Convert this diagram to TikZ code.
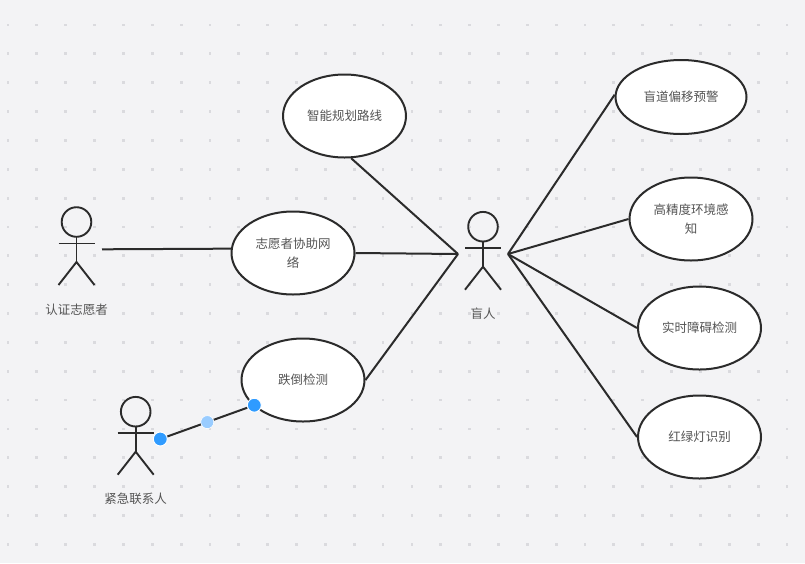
\documentclass[tikz,border=0pt]{standalone}
\usepackage{fontspec}
\setmainfont{Noto Sans CJK SC}
\usetikzlibrary{shapes.geometric,calc}
\definecolor{bgc}{HTML}{F3F3F5}
\definecolor{dotc}{HTML}{DADADE}
\definecolor{inkc}{HTML}{2B2B2B}
\definecolor{txtc}{HTML}{555555}
\definecolor{handlec}{HTML}{2F9BFF}
\definecolor{midc}{HTML}{99CCFF}
\tikzset{
  usecase/.style={ellipse,draw=inkc,fill=white,line width=2pt,inner sep=0pt,minimum width=123pt,minimum height=83pt,text=txtc,font=\fontsize{12.5}{19}\selectfont,align=center},
  link/.style={draw=inkc,line width=2pt},
  limb/.style={draw=inkc,line width=1.9pt},
  actorlabel/.style={text=txtc,font=\fontsize{12.5}{15}\selectfont,inner sep=0pt},
  handle/.style={circle,fill=handlec,draw=white,line width=1pt,minimum size=14pt,inner sep=0pt},
  midhandle/.style={circle,fill=midc,draw=white,line width=0.6pt,minimum size=13pt,inner sep=0pt},
}
\newcommand{\stickman}[2]{%
  \draw[limb] (#1,#2) circle (14.8pt);
  \draw[limb] (#1,#2+14.8) -- (#1,#2+40);
  \draw[limb] (#1-18,#2+21.5) -- (#1+18,#2+21.5);
  \draw[limb] (#1-18,#2+63) -- (#1,#2+40) -- (#1+18,#2+63);
}
\begin{document}
\begin{tikzpicture}[x=1pt,y=-1pt]
\useasboundingbox (0,0) rectangle (805,563);
\fill[bgc] (0,0) rectangle (805,563);
\foreach \i in {0,...,27}{\foreach \j in {0,...,18}{
  \fill[dotc] ({8+28.85*\i-1.4},{25+28.85*\j-1.4}) rectangle +(2.8,2.8);
}}
% use cases
\node[usecase] (route) at (344.5,116) {智能规划路线};
\node[usecase] (volunteer) at (293,253) {志愿者协助网\\络};
\node[usecase] (fall) at (303,380) {跌倒检测};
\node[usecase,minimum width=131pt,minimum height=74pt] (lane) at (681,97) {盲道偏移预警};
\node[usecase] (env) at (691,219) {高精度环境感\\知};
\node[usecase] (obst) at (699.5,328) {实时障碍检测};
\node[usecase] (light) at (699.5,437) {红绿灯识别};
% actors
\stickman{76.5}{222}
\stickman{483}{226.7}
\stickman{135.7}{411.7}
\node[actorlabel] (lblA) at (76.5,310) {认证志愿者};
\node[actorlabel] (lblB) at (483,314) {盲人};
\node[actorlabel] (lblC) at (135.5,499) {紧急联系人};
% connector ends
\coordinate (hubL) at (458,254);
\coordinate (hubR) at (508,254);
\coordinate (handA) at (102,249.3);
% connectors
\draw[link] (route.279) -- (hubL);
\draw[link] (volunteer.east) -- (hubL);
\draw[link] (fall.east) -- (hubL);
\draw[link] (hubR) -- (lane.178);
\draw[link] (hubR) -- (env.west);
\draw[link] (hubR) -- (obst.west);
\draw[link] (hubR) -- (light.west);
\draw[link] (handA) -- (volunteer.176);
% selected connector
\coordinate (hs0) at (160.3,439);
\coordinate (ht0) at (254.3,405.2);
\draw[link] (hs0) -- (ht0);
\node[handle] (hs) at (hs0) {};
\node[handle] (ht) at (ht0) {};
\node[midhandle] (hmid) at ($(hs0)!0.5!(ht0)$) {};
\end{tikzpicture}
\end{document}
